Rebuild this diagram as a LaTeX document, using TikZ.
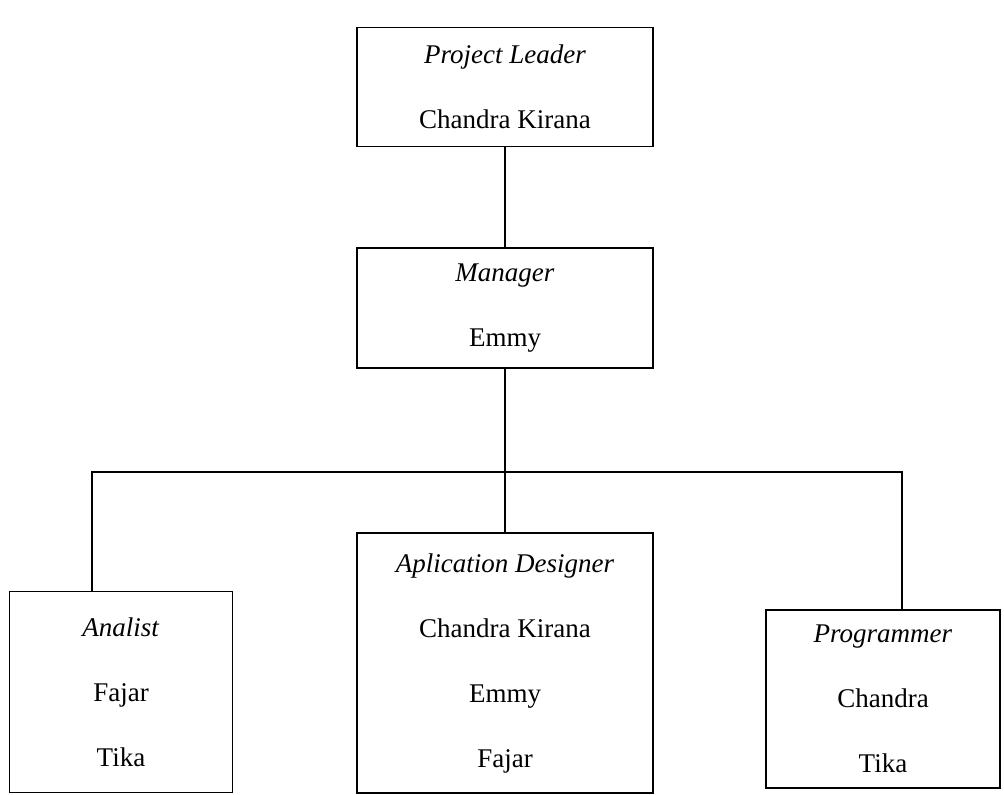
\documentclass[tikz,border=0pt]{standalone}
\usepackage{fontspec}
\setmainfont{Liberation Serif}
\usepackage{tikz}

\tikzset{
  jabatan/.style={draw,line width=1.8pt,rectangle,align=center,inner sep=0pt,
    font=\fontsize{27}{65}\selectfont},
  garis/.style={line width=1.8pt}
}

\begin{document}
\begin{tikzpicture}[x=1pt,y=-1pt]
\useasboundingbox (0,0) rectangle (1004,795);

\node[jabatan,minimum width=296pt,minimum height=119pt] (lead) at (505,87)
  {\textit{Project Leader}\\Chandra Kirana};
\node[jabatan,minimum width=296pt,minimum height=120pt] (mgr) at (505,308)
  {\textit{Manager}\\Emmy};

\node[jabatan,minimum width=223pt,minimum height=201pt] (analist) at (121,692)
  {\textit{Analist}\\Fajar\\Tika};
\node[jabatan,minimum width=296pt,minimum height=260pt] (designer) at (505,663)
  {\textit{Aplication Designer}\\Chandra Kirana\\Emmy\\Fajar};
\node[jabatan,minimum width=234pt,minimum height=178pt] (prog) at (883,699)
  {\textit{Programmer}\\Chandra\\Tika};

\coordinate (busl) at (92,472);
\coordinate (busr) at (902,472);

\draw[garis] (lead.south) -- (mgr.north);
\draw[garis] (mgr.south) -- (designer.north);
\draw[garis] (analist.north -| busl) -- (busl) -- (busr) -- (prog.north -| busr);
\end{tikzpicture}
\end{document}
